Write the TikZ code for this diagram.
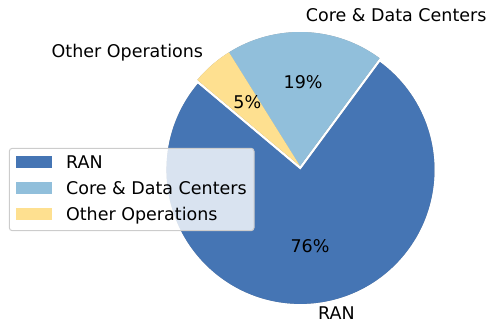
\documentclass[tikz,border=0pt]{standalone}
\usepackage{fontspec}
\setmainfont{DejaVu Sans}
\usepackage{xcolor}
\definecolor{RanBlue}{RGB}{69,117,180}
\definecolor{CoreBlue}{RGB}{145,191,219}
\definecolor{OtherYellow}{RGB}{254,224,144}
\definecolor{LegEdge}{RGB}{204,204,204}

\begin{document}
\begin{tikzpicture}[x=1pt, y=1pt,
    every node/.style={font=\fontsize{17.5}{21}\selectfont, inner sep=0pt}]
  \tikzstyle{pct}=[text height=0.76em, text depth=0.21em]
  \tikzstyle{outer}=[text height=0.76em, text depth=0.21em]
  \tikzstyle{legpatch}=[minimum width=35.7pt, minimum height=12.3pt]
  \tikzstyle{shade}=[opacity=0.5]
  \useasboundingbox (0,0) rectangle (489,326);
  % pie centres (RAN pulled out a little)
  \coordinate (ranc)  at (300.45,156.1);
  \coordinate (corec) at (300,160);
  \coordinate (othc)  at (300,160);
  % shadows
  \begin{scope}[shift={(-2.7,-2.7)}]
    \fill[shade, RanBlue!30!black] (ranc) -- ++(140:134)
      arc[start angle=140, end angle=413.6, radius=134] -- cycle;
    \fill[shade, CoreBlue!30!black] (corec) -- ++(53.6:134)
      arc[start angle=53.6, end angle=122, radius=134] -- cycle;
    \fill[shade, OtherYellow!30!black] (othc) -- ++(122:134)
      arc[start angle=122, end angle=140, radius=134] -- cycle;
  \end{scope}
  % wedges
  \fill[RanBlue] (ranc) -- ++(140:134)
    arc[start angle=140, end angle=413.6, radius=134] -- cycle;
  \fill[CoreBlue] (corec) -- ++(53.6:134)
    arc[start angle=53.6, end angle=122, radius=134] -- cycle;
  \fill[OtherYellow] (othc) -- ++(122:134)
    arc[start angle=122, end angle=140, radius=134] -- cycle;
  % percentages
  \node[pct] (pctran)   at ([shift={(276.8:80.4)}]ranc)  {76\%};
  \node[pct] (pctcore)  at ([shift={(87.8:80.4)}]corec)  {19\%};
  \node[pct] (pctother) at ([shift={(131:80.4)}]othc)    {5\%};
  % slice labels
  \node[outer, anchor=west] (lblran)   at ([shift={(276.8:147.4)}]ranc) {RAN};
  \node[outer, anchor=west] (lblcore)  at ([shift={(87.8:147.4)}]corec) {Core \& Data Centers};
  \node[outer, anchor=east] (lblother) at ([shift={(131:147.4)}]othc)   {Other Operations};
  % legend
  \node[draw=LegEdge, line width=1pt, fill=white, fill opacity=0.8,
        rounded corners=3pt, minimum width=244.7pt, minimum height=82.4pt]
    (legend) at (131.65,136.5) {};
  \node[legpatch, fill=RanBlue]     (keyran)   at (33.85,163.85) {};
  \node[legpatch, fill=CoreBlue]    (keycore)  at (33.85,138)    {};
  \node[legpatch, fill=OtherYellow] (keyother) at (33.85,112.2)  {};
  \node[anchor=base west] (txtran)   at ([xshift=14pt]keyran.south east)   {RAN};
  \node[anchor=base west] (txtcore)  at ([xshift=14pt]keycore.south east)  {Core \& Data Centers};
  \node[anchor=base west] (txtother) at ([xshift=14pt]keyother.south east) {Other Operations};
\end{tikzpicture}
\end{document}
